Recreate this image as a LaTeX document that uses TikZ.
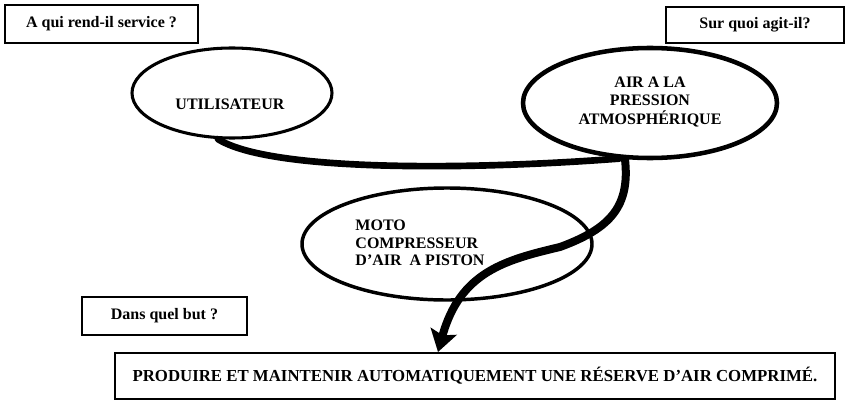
\documentclass[tikz,border=0pt]{standalone}
\usepackage{fontspec}
\setmainfont{Liberation Serif}
\usetikzlibrary{shapes.geometric,arrows.meta}
\tikzset{
	question/.style={draw, line width=1.1pt, inner sep=0pt},
	ovale/.style={ellipse, draw, inner sep=0pt},
	corne/.style={line width=5pt, line cap=round},
}

\begin{document}
\begin{tikzpicture}[x=0.75pt, y=-0.75pt, font=\bfseries\fontsize{12}{14}\selectfont]
			%%%%% START %%%%%
			\useasboundingbox (0, 0) rectangle (846, 403);
			
			\node[question, minimum width=144.75pt, minimum height=28.5pt] (qui) at (101.5, 24) {A qui rend-il service ?};
			\node[question, minimum width=133.5pt, minimum height=27pt] (quoi) at (755, 25) {Sur quoi agit-il?};
			\node[question, minimum width=123.75pt, minimum height=28.5pt] (but) at (164.5, 316) {Dans quel but ?};
			\node[question, line width=1.5pt, minimum width=540pt, minimum height=34.5pt, font=\bfseries\fontsize{12.6}{14}\selectfont] (prod) at (475, 376) {PRODUIRE ET MAINTENIR AUTOMATIQUEMENT UNE RÉSERVE D’AIR COMPRIMÉ.};
			
			\node[ovale, line width=2.3pt, minimum width=150pt, minimum height=67.5pt] (util) at (232, 93) {};
			\node (utiltxt) at (230, 104) {UTILISATEUR};
			
			\node[ovale, line width=3.4pt, minimum width=190.5pt, minimum height=82.5pt] (air) at (650, 103) {};
			\node[align=center] (airtxt) at (650, 102) {AIR A LA\\PRESSION\\ATMOSPHÉRIQUE};
			
			\node[ovale, line width=2.6pt, minimum width=217.5pt, minimum height=84pt] (moto) at (447, 244) {};
			\node[align=left, font=\bfseries\fontsize{12}{13}\selectfont] (mototxt) at (420, 243) {MOTO\\COMPRESSEUR\\D’AIR~ A PISTON};
			
			\draw[corne] (util.-107) .. controls (270, 172) and (470, 170) .. (air.-119);
			\draw[corne, line width=6pt, -{Stealth[length=16pt, width=20pt, inset=3pt]}] (air.-114) .. controls (630, 205) and (612, 228) .. (560, 247) .. controls (505, 260) and (460, 272) .. ([xshift=-27.75pt]prod.north);
			%%%%% END %%%%%
\end{tikzpicture}
\end{document}
